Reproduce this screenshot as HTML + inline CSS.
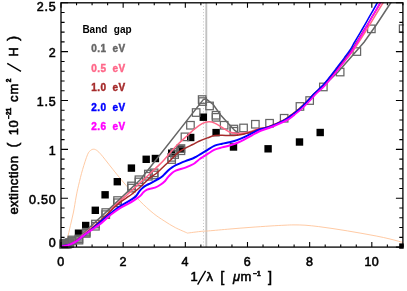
<!DOCTYPE html>
<html><head><meta charset="utf-8"><style>
html,body{margin:0;padding:0;background:#fff;}
svg{display:block;will-change:transform;}
text{font-family:"Liberation Sans",sans-serif;}
</style></head><body>
<svg width="407" height="291" viewBox="0 0 407 291">
<rect width="407" height="291" fill="#fff"/>
<defs><clipPath id="cs"><rect x="59.3" y="2.0" width="344.4" height="246.7"/></clipPath><clipPath id="c"><rect x="60.4" y="2.1999999999999997" width="343.09999999999997" height="245.49999999999997"/></clipPath></defs>

<line x1="203.5" y1="2.8" x2="203.5" y2="247.1" stroke="#b8b8b8" stroke-width="0.8" stroke-dasharray="1,2.1"/>
<line x1="206.3" y1="2.8" x2="206.3" y2="247.1" stroke="#c2c2c2" stroke-width="1.9"/>
<g fill="none" clip-path="url(#cs)">
<path clip-path="url(#c)" d="M64.5,247.0 C65.0,245.6 66.3,242.2 67.3,238.6 C68.3,235.0 69.4,230.0 70.4,225.6 C71.4,221.2 72.5,216.8 73.5,212.0 C74.5,207.2 75.2,201.5 76.1,197.0 C76.9,192.5 77.5,189.8 78.6,185.2 C79.7,180.6 81.1,174.6 82.6,169.5 C84.1,164.4 86.2,157.9 87.5,154.7 C88.8,151.5 89.5,151.4 90.5,150.5 C91.5,149.6 92.7,149.1 93.8,149.2 C94.9,149.2 96.1,149.9 97.3,150.8 C98.5,151.7 99.2,152.4 101.2,154.7 C103.2,157.0 106.5,161.3 109.1,164.6 C111.7,167.9 114.0,170.8 116.9,174.4 C119.9,178.0 123.0,181.8 126.8,186.2 C130.6,190.6 135.5,196.5 139.9,201.0 C144.3,205.5 149.1,209.9 153.2,213.2 C157.2,216.5 160.5,218.5 164.2,220.9 C167.9,223.3 171.4,225.6 175.3,227.6 C179.2,229.6 185.5,232.2 187.5,233.1 M187.5,233.1 C189.6,232.8 196.5,231.9 200.0,231.5 C203.5,231.1 203.5,231.3 208.5,230.9 C213.5,230.5 223.1,229.6 230.0,229.0 C236.9,228.4 243.3,227.9 250.0,227.4 C256.7,226.9 264.2,226.4 270.0,226.0 C275.8,225.6 281.0,225.4 285.0,225.2 C289.0,225.0 290.7,224.9 294.0,224.9 C297.3,224.9 300.9,224.9 305.0,225.2 C309.1,225.5 314.0,226.0 318.7,226.6 C323.4,227.2 328.2,227.9 333.0,228.6 C337.8,229.3 342.7,230.1 347.5,230.9 C352.3,231.7 357.2,232.6 362.0,233.4 C366.8,234.2 371.5,235.1 376.2,236.0 C380.9,236.9 385.9,238.0 390.0,239.0 C394.1,240.0 398.4,241.2 400.6,241.8 C402.8,242.4 402.6,242.4 403.0,242.5" stroke="#ffc49a" stroke-width="0.9"/>
<rect x="74.8" y="229.5" width="7.4" height="7.4" fill="#000"/>
<rect x="82.0" y="221.8" width="7.4" height="7.4" fill="#000"/>
<rect x="91.6" y="206.6" width="7.4" height="7.4" fill="#000"/>
<rect x="101.4" y="191.1" width="7.4" height="7.4" fill="#000"/>
<rect x="113.6" y="178.0" width="7.4" height="7.4" fill="#000"/>
<rect x="127.7" y="164.4" width="7.4" height="7.4" fill="#000"/>
<rect x="142.5" y="155.6" width="7.4" height="7.4" fill="#000"/>
<rect x="151.7" y="154.8" width="7.4" height="7.4" fill="#000"/>
<rect x="168.0" y="149.5" width="7.4" height="7.4" fill="#000"/>
<rect x="176.5" y="145.4" width="7.4" height="7.4" fill="#000"/>
<rect x="187.0" y="133.8" width="7.4" height="7.4" fill="#000"/>
<rect x="199.6" y="113.5" width="7.4" height="7.4" fill="#000"/>
<rect x="212.4" y="128.9" width="7.4" height="7.4" fill="#000"/>
<rect x="229.8" y="143.3" width="7.4" height="7.4" fill="#000"/>
<rect x="264.4" y="145.1" width="7.4" height="7.4" fill="#000"/>
<rect x="295.8" y="138.3" width="7.4" height="7.4" fill="#000"/>
<rect x="316.5" y="128.8" width="7.4" height="7.4" fill="#000"/>
<rect x="399.2" y="243.4" width="7.4" height="7.4" fill="#000"/>
<rect x="59.6" y="240.6" width="7.5" height="7.5" fill="#6c6c6c" fill-opacity="0.75" stroke="none"/>
<rect x="59.6" y="240.0" width="7.5" height="7.5" stroke="#666" stroke-width="1.25"/>
<rect x="59.6" y="241.2" width="7.5" height="7.5" stroke="#666" stroke-width="1.25"/>
<rect x="60.3" y="240.6" width="7.5" height="7.5" fill="#6c6c6c" fill-opacity="0.75" stroke="none"/>
<rect x="60.3" y="240.0" width="7.5" height="7.5" stroke="#666" stroke-width="1.25"/>
<rect x="60.3" y="241.2" width="7.5" height="7.5" stroke="#666" stroke-width="1.25"/>
<rect x="61.2" y="240.4" width="7.5" height="7.5" fill="#6c6c6c" fill-opacity="0.75" stroke="none"/>
<rect x="61.2" y="239.8" width="7.5" height="7.5" stroke="#666" stroke-width="1.25"/>
<rect x="61.2" y="241.0" width="7.5" height="7.5" stroke="#666" stroke-width="1.25"/>
<rect x="62.5" y="240.2" width="7.5" height="7.5" fill="#6c6c6c" fill-opacity="0.75" stroke="none"/>
<rect x="62.5" y="239.7" width="7.5" height="7.5" stroke="#666" stroke-width="1.25"/>
<rect x="62.5" y="240.8" width="7.5" height="7.5" stroke="#666" stroke-width="1.25"/>
<rect x="64.0" y="239.9" width="7.5" height="7.5" fill="#6c6c6c" fill-opacity="0.75" stroke="none"/>
<rect x="64.0" y="239.3" width="7.5" height="7.5" stroke="#666" stroke-width="1.25"/>
<rect x="64.0" y="240.5" width="7.5" height="7.5" stroke="#666" stroke-width="1.25"/>
<rect x="65.8" y="239.2" width="7.5" height="7.5" fill="#6c6c6c" fill-opacity="0.75" stroke="none"/>
<rect x="65.8" y="238.7" width="7.5" height="7.5" stroke="#666" stroke-width="1.25"/>
<rect x="65.8" y="239.8" width="7.5" height="7.5" stroke="#666" stroke-width="1.25"/>
<rect x="68.2" y="236.8" width="7.5" height="7.5" fill="#6c6c6c" fill-opacity="0.75" stroke="none"/>
<rect x="68.2" y="236.2" width="7.5" height="7.5" stroke="#666" stroke-width="1.25"/>
<rect x="68.2" y="237.3" width="7.5" height="7.5" stroke="#666" stroke-width="1.25"/>
<rect x="75.2" y="235.8" width="7.5" height="7.5" fill="#6c6c6c" fill-opacity="0.75" stroke="none"/>
<rect x="75.2" y="235.2" width="7.5" height="7.5" stroke="#666" stroke-width="1.25"/>
<rect x="75.2" y="236.4" width="7.5" height="7.5" stroke="#666" stroke-width="1.25"/>
<rect x="82.5" y="229.1" width="7.5" height="7.5" fill="#6c6c6c" fill-opacity="0.75" stroke="none"/>
<rect x="82.5" y="228.5" width="7.5" height="7.5" stroke="#666" stroke-width="1.25"/>
<rect x="82.5" y="229.7" width="7.5" height="7.5" stroke="#666" stroke-width="1.25"/>
<rect x="91.7" y="220.3" width="7.5" height="7.5" stroke="#666" stroke-width="1.25"/>
<rect x="91.7" y="222.5" width="7.5" height="7.5" stroke="#666" stroke-width="1.25"/>
<rect x="102.0" y="208.8" width="7.5" height="7.5" stroke="#666" stroke-width="1.25"/>
<rect x="102.0" y="210.9" width="7.5" height="7.5" stroke="#666" stroke-width="1.25"/>
<rect x="113.8" y="196.8" width="7.5" height="7.5" stroke="#666" stroke-width="1.25"/>
<rect x="113.8" y="199.0" width="7.5" height="7.5" stroke="#666" stroke-width="1.25"/>
<rect x="127.8" y="182.2" width="7.5" height="7.5" stroke="#666" stroke-width="1.25"/>
<rect x="127.8" y="184.3" width="7.5" height="7.5" stroke="#666" stroke-width="1.25"/>
<rect x="135.2" y="176.0" width="7.5" height="7.5" stroke="#666" stroke-width="1.25"/>
<rect x="135.2" y="178.2" width="7.5" height="7.5" stroke="#666" stroke-width="1.25"/>
<rect x="144.6" y="170.3" width="7.5" height="7.5" stroke="#666" stroke-width="1.25"/>
<rect x="144.6" y="172.5" width="7.5" height="7.5" stroke="#666" stroke-width="1.25"/>
<rect x="150.4" y="169.1" width="7.5" height="7.5" stroke="#666" stroke-width="1.25"/>
<rect x="150.4" y="171.2" width="7.5" height="7.5" stroke="#666" stroke-width="1.25"/>
<rect x="167.9" y="153.6" width="7.5" height="7.5" stroke="#666" stroke-width="1.25"/>
<rect x="167.9" y="155.8" width="7.5" height="7.5" stroke="#666" stroke-width="1.25"/>
<rect x="170.9" y="148.6" width="7.5" height="7.5" stroke="#666" stroke-width="1.25"/>
<rect x="170.9" y="150.8" width="7.5" height="7.5" stroke="#666" stroke-width="1.25"/>
<rect x="177.2" y="144.8" width="7.5" height="7.5" stroke="#666" stroke-width="1.25"/>
<rect x="177.2" y="147.0" width="7.5" height="7.5" stroke="#666" stroke-width="1.25"/>
<rect x="181.2" y="133.1" width="7.5" height="7.5" stroke="#666" stroke-width="1.25"/>
<rect x="186.7" y="121.5" width="7.5" height="7.5" stroke="#666" stroke-width="1.25"/>
<rect x="192.4" y="108.8" width="7.5" height="7.5" stroke="#666" stroke-width="1.25"/>
<rect x="198.4" y="95.8" width="7.5" height="7.5" stroke="#666" stroke-width="1.25"/>
<rect x="198.8" y="97.8" width="7.5" height="7.5" stroke="#666" stroke-width="1.25"/>
<rect x="205.8" y="102.2" width="7.5" height="7.5" stroke="#666" stroke-width="1.25"/>
<rect x="212.3" y="111.5" width="7.5" height="7.5" stroke="#666" stroke-width="1.25"/>
<rect x="212.3" y="113.6" width="7.5" height="7.5" stroke="#666" stroke-width="1.25"/>
<rect x="220.4" y="121.5" width="7.5" height="7.5" stroke="#666" stroke-width="1.25"/>
<rect x="230.1" y="125.3" width="7.5" height="7.5" stroke="#666" stroke-width="1.25"/>
<rect x="230.1" y="127.5" width="7.5" height="7.5" stroke="#666" stroke-width="1.25"/>
<rect x="239.8" y="124.2" width="7.5" height="7.5" stroke="#666" stroke-width="1.25"/>
<rect x="251.6" y="120.5" width="7.5" height="7.5" stroke="#666" stroke-width="1.25"/>
<rect x="265.8" y="119.5" width="7.5" height="7.5" stroke="#666" stroke-width="1.25"/>
<rect x="280.4" y="114.5" width="7.5" height="7.5" stroke="#666" stroke-width="1.25"/>
<rect x="296.2" y="102.7" width="7.5" height="7.5" stroke="#666" stroke-width="1.25"/>
<rect x="305.9" y="96.8" width="7.5" height="7.5" stroke="#666" stroke-width="1.25"/>
<rect x="319.6" y="83.2" width="7.5" height="7.5" stroke="#666" stroke-width="1.25"/>
<rect x="336.4" y="68.3" width="7.5" height="7.5" stroke="#666" stroke-width="1.25"/>
<rect x="353.1" y="47.8" width="7.5" height="7.5" stroke="#666" stroke-width="1.25"/>
<rect x="367.6" y="25.1" width="7.5" height="7.5" stroke="#666" stroke-width="1.25"/>
<rect x="399.4" y="24.9" width="7.5" height="7.5" stroke="#666" stroke-width="1.25"/>
</g>
<g clip-path="url(#c)" fill="none">
<path d="M61.0,247.0 L66.0,246.5 L70.0,245.0 L76.0,240.5 L90.0,227.0 L104.7,213.4 L119.5,199.4 L140.0,180.0 L150.0,167.5 L203.5,99.4 L206.0,98.8 L209.5,101.6 L213.2,104.5 L220.6,115.0 L234.7,130.5 L240.0,134.0 L245.0,133.5 L259.0,130.0 L270.0,127.0 L284.5,120.5 L299.5,109.5 L307.0,102.0 L322.5,87.0 L338.0,72.0 L353.8,54.0 L364.2,42.0 L376.2,25.0 L390.6,3.0 L394.4,-3.0" stroke="#666" stroke-width="1.5"/>
<path d="M61.5,246.3 C62.9,245.9 67.6,245.0 70.0,244.0 C72.4,243.0 72.7,243.0 76.0,240.5 C79.3,238.0 85.8,232.3 90.0,229.0 C94.2,225.7 98.4,223.0 101.3,220.7 C104.2,218.4 105.7,217.2 107.5,215.1 C109.3,213.0 110.4,210.3 112.4,208.0 C114.4,205.7 117.2,203.3 119.7,201.1 C122.2,198.9 125.5,196.2 127.1,194.8 C128.7,193.4 125.8,195.9 129.4,192.6 C133.0,189.3 143.9,179.3 148.6,175.0 C153.3,170.7 154.8,169.1 157.4,166.6 C160.0,164.1 160.8,163.6 164.0,160.0 C167.2,156.4 173.0,149.4 176.9,145.3 C180.8,141.2 184.2,138.4 187.2,135.7 C190.2,133.0 192.2,130.9 194.7,128.9 C197.2,126.9 199.8,124.9 202.1,123.7 C204.4,122.5 206.7,121.9 208.8,121.8 C210.9,121.7 212.5,122.1 214.7,123.1 C216.9,124.0 219.6,126.0 222.1,127.5 C224.6,129.0 227.0,131.0 229.5,132.0 C232.0,133.0 234.5,133.2 236.9,133.4 C239.3,133.6 241.8,133.4 244.2,133.0 C246.6,132.6 249.1,131.9 251.6,131.2 C254.1,130.5 256.2,129.3 259.0,128.6 C261.8,127.9 264.0,128.4 268.1,127.0 C272.2,125.6 279.5,122.4 283.4,120.4 C287.3,118.4 288.7,117.1 291.3,115.2 C294.0,113.3 296.5,111.5 299.2,109.3 C301.8,107.1 304.4,104.6 307.1,102.0 C309.7,99.4 312.2,96.5 315.0,93.8 C317.8,91.1 320.9,88.8 323.6,86.1 C326.4,83.3 328.9,80.4 331.5,77.3 C334.2,74.2 336.8,70.9 339.5,67.7 C342.1,64.5 344.9,61.1 347.3,58.1 C349.7,55.1 351.8,52.7 353.7,50.0 C355.6,47.3 356.6,45.4 358.8,42.0 C361.0,38.6 364.1,33.8 366.7,29.5 C369.4,25.2 372.2,20.6 374.9,16.2 C377.5,11.8 380.9,6.2 382.9,3.0 C384.9,-0.2 386.1,-2.0 386.8,-3.0" stroke="#ff6688" stroke-width="1.5"/>
<path d="M61.5,246.3 C62.9,246.0 67.6,245.1 70.0,244.2 C72.4,243.3 72.7,243.2 76.0,240.8 C79.3,238.4 85.2,234.1 90.0,230.0 C94.8,225.9 101.0,220.0 104.7,216.5 C108.4,213.0 109.9,211.5 112.4,209.2 C114.9,206.9 117.2,204.6 119.7,202.6 C122.2,200.6 125.0,198.8 127.1,197.4 C129.2,196.0 129.9,195.7 132.0,194.0 C134.1,192.3 137.2,189.8 139.7,187.5 C142.2,185.2 145.4,182.1 147.1,180.5 C148.8,178.9 148.3,179.0 150.0,177.7 C151.7,176.4 155.0,174.5 157.4,172.5 C159.8,170.5 162.5,167.6 164.7,165.5 C166.9,163.4 168.4,162.2 170.6,160.0 C172.8,157.8 175.5,154.6 178.0,152.6 C180.5,150.6 183.0,149.5 185.4,148.2 C187.8,146.8 190.4,145.7 192.7,144.5 C195.0,143.3 196.6,142.3 199.0,141.2 C201.4,140.1 204.8,138.8 207.4,137.9 C210.0,137.0 212.2,136.0 214.7,135.6 C217.1,135.2 219.6,135.3 222.1,135.3 C224.6,135.3 227.0,135.6 229.5,135.6 C232.0,135.6 234.5,135.6 236.9,135.3 C239.3,135.0 241.8,134.5 244.2,133.9 C246.6,133.3 249.1,132.8 251.6,132.0 C254.1,131.2 256.3,129.8 259.0,129.0 C261.7,128.2 263.9,128.4 267.9,127.0 C271.9,125.6 279.2,122.4 283.1,120.4 C286.9,118.4 288.2,117.1 290.8,115.2 C293.4,113.3 295.9,111.5 298.5,109.3 C301.0,107.1 303.6,104.6 306.2,102.0 C308.8,99.4 311.3,96.5 314.0,93.8 C316.7,91.1 319.7,88.8 322.4,86.1 C325.1,83.3 327.6,80.4 330.2,77.3 C332.8,74.2 335.4,70.9 337.9,67.7 C340.5,64.5 343.3,61.1 345.6,58.1 C347.9,55.1 350.0,52.7 351.8,50.0 C353.7,47.3 354.7,45.4 356.8,42.0 C358.9,38.6 361.9,33.8 364.5,29.5 C367.2,25.2 369.9,20.6 372.5,16.2 C375.1,11.8 378.4,6.2 380.3,3.0 C382.3,-0.2 383.5,-2.0 384.1,-3.0" stroke="#a52a2a" stroke-width="1.5"/>
<path d="M61.5,246.3 C62.9,246.0 67.5,245.3 70.0,244.4 C72.5,243.5 74.5,242.4 76.6,241.0 C78.7,239.6 80.6,237.7 82.8,236.0 C85.0,234.3 86.3,233.8 90.0,230.8 C93.7,227.8 101.0,221.3 104.7,218.2 C108.4,215.1 109.9,213.9 112.4,212.0 C114.9,210.1 117.2,208.2 119.7,206.6 C122.2,205.0 125.0,203.4 127.1,202.2 C129.2,201.0 130.5,200.2 132.0,199.2 C133.5,198.2 134.8,197.4 136.1,196.0 C137.4,194.6 138.5,192.3 139.7,190.8 C140.9,189.3 142.2,188.2 143.4,187.2 C144.6,186.2 145.9,185.6 147.1,184.9 C148.3,184.2 149.3,183.9 150.8,183.1 C152.3,182.3 154.2,181.3 155.9,180.3 C157.6,179.3 159.6,178.4 161.1,177.3 C162.6,176.2 163.5,175.2 164.7,174.0 C165.9,172.8 167.2,171.4 168.4,170.3 C169.6,169.2 170.9,168.2 172.1,167.4 C173.3,166.6 174.5,165.9 175.8,165.2 C177.1,164.5 178.4,164.0 180.0,163.3 C181.6,162.6 183.3,161.9 185.4,161.1 C187.5,160.3 190.9,159.2 192.7,158.5 C194.5,157.8 195.2,157.3 196.4,156.6 C197.6,155.9 198.9,155.1 200.1,154.4 C201.3,153.7 202.5,153.0 203.8,152.2 C205.1,151.4 206.2,150.7 208.0,149.6 C209.8,148.5 212.3,146.7 214.7,145.7 C217.0,144.7 219.6,144.3 222.1,143.7 C224.6,143.1 227.0,142.9 229.5,142.3 C232.0,141.7 234.5,141.0 236.9,140.1 C239.3,139.2 241.8,138.2 244.2,137.1 C246.6,136.0 249.1,134.6 251.6,133.4 C254.1,132.2 256.0,130.8 259.0,129.7 C262.0,128.6 265.4,128.6 269.7,127.0 C273.9,125.5 280.8,122.4 284.5,120.4 C288.2,118.4 289.4,117.1 291.9,115.2" stroke="#0000ff" stroke-width="2.0" stroke-linecap="round"/><path d="M291.9,115.2 C294.3,113.3 296.8,111.5 299.2,109.3 C301.6,107.1 304.1,104.6 306.6,102.0 C309.1,99.4 311.4,96.5 314.0,93.8 C316.6,91.1 319.5,88.8 322.1,86.1 C324.7,83.3 327.0,80.4 329.5,77.3 C332.0,74.2 334.4,70.9 336.9,67.7 C339.3,64.5 342.0,61.1 344.2,58.1 C346.4,55.1 348.4,52.7 350.1,50.0 C351.9,47.3 352.7,45.4 354.7,42.0 C356.7,38.6 359.6,33.8 362.1,29.5 C364.6,25.2 367.2,20.6 369.7,16.2 C372.2,11.8 375.4,6.2 377.2,3.0 C379.0,-0.2 380.0,-2.0 380.6,-3.0" stroke="#0000ff" stroke-width="1.55" stroke-linecap="round"/>
<path d="M61.7,246.3 C62.4,246.2 64.5,246.1 66.0,245.8 C67.5,245.5 68.6,245.2 70.4,244.4 C72.2,243.6 74.5,242.5 76.6,241.1 C78.7,239.7 80.8,237.6 82.8,236.1 C84.8,234.6 86.9,233.2 88.9,231.8 C91.0,230.4 93.0,228.9 95.1,227.5 C97.2,226.1 99.2,224.8 101.3,223.1 C103.4,221.4 105.7,219.2 107.5,217.6 C109.3,216.0 110.4,215.0 112.4,213.5 C114.4,212.0 117.2,209.9 119.7,208.4 C122.2,206.9 124.7,205.7 127.1,204.4 C129.5,203.1 131.8,201.8 134.0,200.4 C136.2,199.0 138.5,197.3 140.1,196.0 C141.7,194.7 142.2,193.4 143.4,192.3 C144.6,191.2 145.9,190.3 147.1,189.7 C148.3,189.1 149.5,188.9 150.8,188.6 C152.1,188.2 153.5,188.2 155.0,187.6 C156.5,187.0 158.3,186.1 160.0,185.0 C161.7,183.9 163.7,182.4 165.1,181.0 C166.5,179.6 167.2,177.9 168.4,176.6 C169.6,175.2 170.9,173.9 172.1,172.9 C173.3,171.9 174.5,171.3 175.8,170.7 C177.1,170.1 178.4,169.7 180.0,169.2 C181.6,168.7 183.2,168.5 185.4,167.6 C187.7,166.7 191.7,165.0 193.5,164.0 C195.3,163.0 195.3,162.7 196.4,161.8 C197.5,160.9 198.9,159.7 200.1,158.8 C201.3,157.9 202.5,157.2 203.8,156.3 C205.1,155.5 206.2,154.8 208.0,153.7 C209.8,152.6 212.3,150.6 214.7,149.6 C217.0,148.6 219.6,148.1 222.1,147.4 C224.6,146.7 227.0,146.2 229.5,145.5 C232.0,144.8 234.5,144.0 236.9,143.0 C239.3,142.0 241.8,140.8 244.2,139.6 C246.6,138.4 249.1,136.9 251.6,135.6 C254.1,134.2 255.7,132.9 259.0,131.5 C262.3,130.1 266.9,128.8 271.5,127.0 C276.1,125.2 282.7,122.4 286.4,120.4 C290.1,118.4 291.4,117.1 293.9,115.2" stroke="#ff00ff" stroke-width="2.0" stroke-linecap="round"/><path d="M293.9,115.2 C296.3,113.3 298.8,111.5 301.2,109.3 C303.7,107.1 306.2,104.6 308.7,102.0 C311.2,99.4 313.6,96.5 316.2,93.8 C318.8,91.1 321.8,88.8 324.4,86.1 C327.0,83.3 329.4,80.4 331.9,77.3 C334.4,74.2 336.9,70.9 339.3,67.7 C341.8,64.5 344.5,61.1 346.7,58.1 C348.9,55.1 350.9,52.7 352.7,50.0 C354.5,47.3 355.4,45.4 357.4,42.0 C359.4,38.6 362.3,33.8 364.9,29.5 C367.4,25.2 370.0,20.6 372.5,16.2 C375.1,11.8 378.3,6.2 380.1,3.0 C382.0,-0.2 383.0,-2.0 383.6,-3.0" stroke="#ff00ff" stroke-width="1.55" stroke-linecap="round"/>
</g>
<g stroke="#000" stroke-width="1.3" fill="none">
<rect x="61.0" y="2.8" width="341.9" height="244.29999999999998"/>
<path d="M61.00,247.1v-5M61.00,2.8v5M76.54,247.1v-2.5M76.54,2.8v2.5M92.08,247.1v-2.5M92.08,2.8v2.5M107.62,247.1v-2.5M107.62,2.8v2.5M123.16,247.1v-5M123.16,2.8v5M138.70,247.1v-2.5M138.70,2.8v2.5M154.25,247.1v-2.5M154.25,2.8v2.5M169.79,247.1v-2.5M169.79,2.8v2.5M185.33,247.1v-5M185.33,2.8v5M200.87,247.1v-2.5M200.87,2.8v2.5M216.41,247.1v-2.5M216.41,2.8v2.5M231.95,247.1v-2.5M231.95,2.8v2.5M247.49,247.1v-5M247.49,2.8v5M263.03,247.1v-2.5M263.03,2.8v2.5M278.57,247.1v-2.5M278.57,2.8v2.5M294.11,247.1v-2.5M294.11,2.8v2.5M309.65,247.1v-5M309.65,2.8v5M325.20,247.1v-2.5M325.20,2.8v2.5M340.74,247.1v-2.5M340.74,2.8v2.5M356.28,247.1v-2.5M356.28,2.8v2.5M371.82,247.1v-5M371.82,2.8v5M387.36,247.1v-2.5M387.36,2.8v2.5M402.90,247.1v-2.5M402.90,2.8v2.5M61.0,247.10h7M402.9,247.10h-7M61.0,237.33h3.6M402.9,237.33h-3.6M61.0,227.56h3.6M402.9,227.56h-3.6M61.0,217.78h3.6M402.9,217.78h-3.6M61.0,208.01h3.6M402.9,208.01h-3.6M61.0,198.24h7M402.9,198.24h-7M61.0,188.47h3.6M402.9,188.47h-3.6M61.0,178.70h3.6M402.9,178.70h-3.6M61.0,168.92h3.6M402.9,168.92h-3.6M61.0,159.15h3.6M402.9,159.15h-3.6M61.0,149.38h7M402.9,149.38h-7M61.0,139.61h3.6M402.9,139.61h-3.6M61.0,129.84h3.6M402.9,129.84h-3.6M61.0,120.06h3.6M402.9,120.06h-3.6M61.0,110.29h3.6M402.9,110.29h-3.6M61.0,100.52h7M402.9,100.52h-7M61.0,90.75h3.6M402.9,90.75h-3.6M61.0,80.98h3.6M402.9,80.98h-3.6M61.0,71.20h3.6M402.9,71.20h-3.6M61.0,61.43h3.6M402.9,61.43h-3.6M61.0,51.66h7M402.9,51.66h-7M61.0,41.89h3.6M402.9,41.89h-3.6M61.0,32.12h3.6M402.9,32.12h-3.6M61.0,22.34h3.6M402.9,22.34h-3.6M61.0,12.57h3.6M402.9,12.57h-3.6M61.0,2.80h7M402.9,2.80h-7" stroke-width="1.1"/>
</g>
<text x="61.0" y="265.9" font-size="12.5" text-anchor="middle" letter-spacing="0.4" stroke="#000" stroke-width="0.55">0</text>
<text x="123.2" y="265.9" font-size="12.5" text-anchor="middle" letter-spacing="0.4" stroke="#000" stroke-width="0.55">2</text>
<text x="185.3" y="265.9" font-size="12.5" text-anchor="middle" letter-spacing="0.4" stroke="#000" stroke-width="0.55">4</text>
<text x="247.5" y="265.9" font-size="12.5" text-anchor="middle" letter-spacing="0.4" stroke="#000" stroke-width="0.55">6</text>
<text x="309.7" y="265.9" font-size="12.5" text-anchor="middle" letter-spacing="0.4" stroke="#000" stroke-width="0.55">8</text>
<text x="371.8" y="265.9" font-size="12.5" text-anchor="middle" letter-spacing="0.4" stroke="#000" stroke-width="0.55">10</text>
<text x="56.6" y="247.4" font-size="12.5" text-anchor="end" letter-spacing="0.8" stroke="#000" stroke-width="0.55">0</text>
<text x="56.6" y="203.6" font-size="12.5" text-anchor="end" letter-spacing="0.8" stroke="#000" stroke-width="0.55">0.50</text>
<text x="56.6" y="154.8" font-size="12.5" text-anchor="end" letter-spacing="0.8" stroke="#000" stroke-width="0.55">1</text>
<text x="56.6" y="105.9" font-size="12.5" text-anchor="end" letter-spacing="0.8" stroke="#000" stroke-width="0.55">1.5</text>
<text x="56.6" y="57.1" font-size="12.5" text-anchor="end" letter-spacing="0.8" stroke="#000" stroke-width="0.55">2</text>
<text x="56.6" y="10.6" font-size="12.5" text-anchor="end" letter-spacing="0.8" stroke="#000" stroke-width="0.55">2.5</text>
<text x="190.6" y="281.4" font-size="13" stroke="#000" stroke-width="0.55" >1</text>
<line x1="197.6" y1="284.6" x2="205.6" y2="270.8" stroke="#000" stroke-width="1.4"/>
<text x="206.6" y="281.4" font-size="13" stroke="#000" stroke-width="0.55" >λ</text>
<text x="220.2" y="281.7" font-size="14.5" stroke="#000" stroke-width="0.55" >[</text>
<text x="233.0" y="281.4" font-size="13" stroke="#000" stroke-width="0.55" font-style="italic">μ</text>
<text x="240.4" y="281.4" font-size="13" stroke="#000" stroke-width="0.55" >m</text>
<text x="253.3" y="275.79999999999995" font-size="6.5" stroke="#000" stroke-width="0.55" font-weight="bold">−1</text>
<text x="268.0" y="281.7" font-size="14.5" stroke="#000" stroke-width="0.55" >]</text>
<text transform="translate(18.1,214.6) rotate(-90)" font-size="13" stroke="#000" stroke-width="0.55" letter-spacing="0.4">extinction</text>
<text transform="translate(18.3,147.4) rotate(-90)" font-size="14.5" stroke="#000" stroke-width="0.55" >(</text>
<text transform="translate(18.1,135.2) rotate(-90)" font-size="13" stroke="#000" stroke-width="0.55" letter-spacing="0.4">10</text>
<text transform="translate(11.200000000000001,118.8) rotate(-90)" font-size="6.5" stroke="#000" stroke-width="0.55" font-weight="bold">−21</text>
<text transform="translate(18.1,102.0) rotate(-90)" font-size="13" stroke="#000" stroke-width="0.55" letter-spacing="1.1">cm</text>
<text transform="translate(11.200000000000001,82.2) rotate(-90)" font-size="6.5" stroke="#000" stroke-width="0.55" font-weight="bold">2</text>
<line x1="21" y1="71.4" x2="7.2" y2="63.4" stroke="#000" stroke-width="1.4"/>
<text transform="translate(18.1,56.4) rotate(-90)" font-size="13" stroke="#000" stroke-width="0.55" >H</text>
<text transform="translate(18.3,40.8) rotate(-90)" font-size="14.5" stroke="#000" stroke-width="0.55" >)</text>
<text x="82.4" y="32.5" font-size="10" word-spacing="3.6" letter-spacing="0" stroke="#000" stroke-width="0" font-weight="bold">Band gap</text>
<text x="91.3" y="52.1" font-size="10" word-spacing="2.7" letter-spacing="0.45" fill="#666" stroke="#666" stroke-width="0.4" font-weight="bold">0.1 eV</text>
<text x="91.3" y="71.7" font-size="10" word-spacing="2.7" letter-spacing="0.45" fill="#ff6688" stroke="#ff6688" stroke-width="0.4" font-weight="bold">0.5 eV</text>
<text x="91.3" y="91.3" font-size="10" word-spacing="2.7" letter-spacing="0.45" fill="#a52a2a" stroke="#a52a2a" stroke-width="0.4" font-weight="bold">1.0 eV</text>
<text x="91.3" y="110.8" font-size="10" word-spacing="2.7" letter-spacing="0.45" fill="#0000ff" stroke="#0000ff" stroke-width="0.4" font-weight="bold">2.0 eV</text>
<text x="91.3" y="130.4" font-size="10" word-spacing="2.7" letter-spacing="0.45" fill="#ff00ff" stroke="#ff00ff" stroke-width="0.4" font-weight="bold">2.6 eV</text>
</svg></body></html>
